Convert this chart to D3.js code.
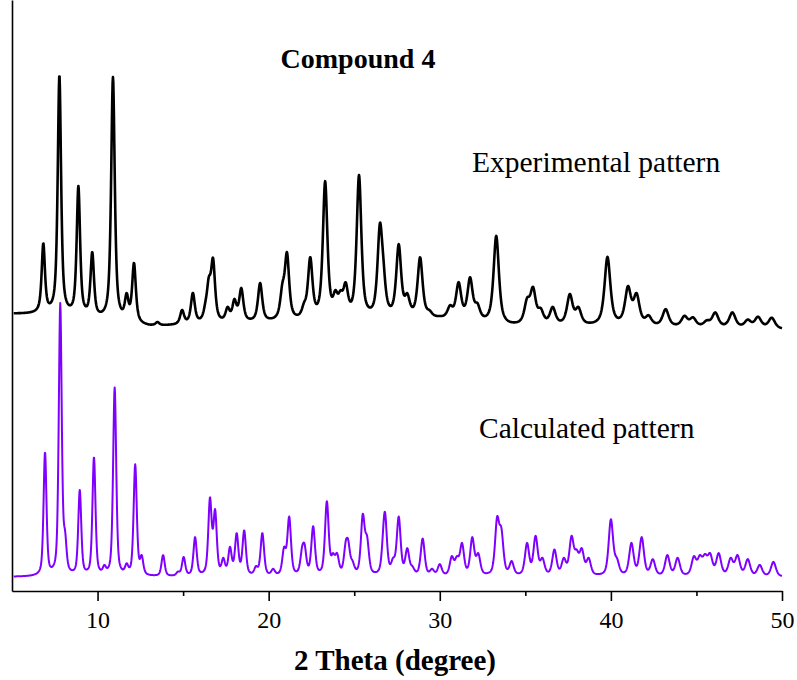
<!DOCTYPE html>
<html>
<head>
<meta charset="utf-8">
<script src="https://cdn.jsdelivr.net/npm/d3@7"></script>
<style>
  body { margin: 0; background: #fff; }
  svg { display: block; }
  text { font-family: "Liberation Serif", "Times New Roman", serif; fill: #000; }
</style>
</head>
<body>
<svg id="chart" width="797" height="680"></svg>
<script>
// ---- data -------------------------------------------------------------
const xMajorTicks = [10, 20, 30, 40, 50];
const xMinorTicks = [15, 25, 35, 45];

// Calculated pattern: reflection positions (2θ, deg) and peak heights (a.u.)
const calcAngle = [6.93, 7.82, 8.10, 8.96, 9.79, 10.40, 11.00, 11.70, 12.20, 12.58,
  13.83, 14.70, 15.03, 15.70, 16.57, 16.87, 17.35, 17.74, 18.13, 18.57,
  19.26, 19.63, 20.26, 20.90, 21.20, 21.95, 22.10, 22.60, 23.40, 23.76,
  24.00, 24.50, 24.65, 24.90, 25.50, 25.75, 26.70, 26.80, 27.27, 27.60,
  28.10, 28.40, 29.00, 29.55, 30.00, 30.70, 31.00, 31.30, 31.90, 32.25,
  33.35, 33.60, 34.20, 35.10, 35.60, 36.00, 36.70, 37.25, 37.70, 38.00,
  38.30, 38.70, 40.00, 40.35, 41.20, 41.80, 42.45, 43.30, 43.90, 44.85,
  45.20, 45.50, 45.80, 46.30, 47.00, 47.40, 48.00, 48.70, 49.50];
const calcHeight = [45.5, 99.7, 17.0, 31.7, 43.7, 4.4, 69.0, 5.0, 41.0, 8.0,
  8.0, 2.0, 7.3, 14.5, 29.0, 24.7, 7.0, 11.0, 16.0, 17.0,
  4.0, 16.0, 3.0, 11.0, 22.0, 11.0, 12.0, 18.5, 27.6, 8.7,
  8.7, 13.0, 13.5, 6.0, 23.0, 15.0, 18.5, 23.6, 7.0, 22.0,
  10.5, 4.0, 14.0, 3.0, 4.7, 7.6, 7.6, 12.4, 14.5, 8.7,
  22.0, 18.0, 5.8, 12.4, 15.0, 7.0, 10.0, 7.0, 15.0, 10.0,
  10.5, 7.0, 21.0, 7.0, 12.4, 14.5, 6.5, 8.0, 7.0, 7.6,
  8.0, 8.4, 8.7, 8.7, 7.0, 8.0, 6.5, 4.4, 5.5];

// Experimental pattern: peak positions (2θ, deg) and heights above background (a.u.)
const expAngle = [6.83, 7.77, 8.88, 9.69, 10.90, 11.70, 12.13, 12.40, 13.50, 14.94,
  15.57, 16.30, 16.50, 16.75, 17.60, 18.00, 18.40, 19.10, 19.50, 20.80,
  21.07, 22.07, 22.43, 23.30, 23.90, 24.20, 24.50, 25.28, 26.50, 26.70,
  27.60, 28.10, 28.85, 29.40, 30.60, 31.10, 31.77, 32.20, 33.30, 35.10,
  35.45, 35.90, 36.60, 37.60, 38.10, 39.80, 41.00, 41.50, 42.20, 43.20,
  44.30, 44.80, 45.60, 46.10, 47.10, 48.00, 48.60, 49.40];
const expHeight = [26.1, 87.9, 48.3, 24.9, 89.4, 11.4, 22.7, 2.0, 1.7, 5.8,
  11.9, 8.5, 17.5, 24.4, 6.4, 9.2, 13.1, 1.7, 14.7, 14.5,
  25.7, 7.4, 23.8, 51.3, 11.6, 11.5, 14.4, 53.3, 35.7, 23.3,
  27.9, 10.0, 23.0, 3.7, 5.8, 14.5, 16.7, 7.6, 32.7, 10.6,
  14.6, 6.9, 7.3, 12.0, 7.3, 25.5, 15.0, 12.5, 4.5, 6.8,
  4.5, 4.0, 3.0, 5.9, 6.0, 3.5, 4.6, 4.3];

// Experimental background level (stacked above the calculated pattern)
const expBgAngle = [5, 7, 13, 20, 30, 34, 40, 50];
const expBgLevel = [95.7, 95.4, 91.0, 92.4, 93.5, 91.0, 91.0, 90.0];

// ---- layout -----------------------------------------------------------
const svg = d3.select("#chart");
const x = d3.scaleLinear().domain([5, 50]).range([12, 782]);
const y = d3.scaleLinear().domain([-5.1, 210]).range([591, 0]);

// pseudo-Voigt line shape, normalised to 1 at the centre
function pseudoVoigt(dx, fwhm, eta) {
  const t = 2 * dx / fwhm;
  const lor = 1 / (1 + t * t);
  const gau = Math.exp(-Math.LN2 * t * t);
  return eta * lor + (1 - eta) * gau;
}

// Build a profile whose maxima sit at the listed heights
function buildProfile(angles, heights, widthAt, eta) {
  const amp = heights.slice();
  const sumAt = (pos) => angles.reduce((s, c, j) =>
    s + amp[j] * pseudoVoigt(pos - c, widthAt(c), eta), 0);
  for (let it = 0; it < 60; it++) {
    for (let i = 0; i < angles.length; i++) {
      const diff = heights[i] - sumAt(angles[i]);
      amp[i] = Math.max(0, amp[i] + 0.6 * diff);
    }
  }
  return (pos) => angles.reduce((s, c, j) =>
    s + amp[j] * pseudoVoigt(pos - c, widthAt(c), eta), 0);
}

const calcProfile = buildProfile(calcAngle, calcHeight, (c) => 0.18 + 0.0032 * c, 0.5);
const expProfile = buildProfile(expAngle, expHeight, (c) => 0.19 + 0.0055 * c, 0.72);
const expBackground = d3.scaleLinear().domain(expBgAngle).range(expBgLevel);

const grid = d3.range(5.1, 50.0001, 0.02);
const calcSeries = grid.map(a => [a, calcProfile(a)]);
const expSeries = grid.map(a => [a, expBackground(a) + expProfile(a)]);

const line = d3.line().x(d => x(d[0])).y(d => y(d[1]));

svg.append("path")
  .datum(calcSeries)
  .attr("d", line)
  .attr("fill", "none")
  .attr("stroke", "#7f00ff")
  .attr("stroke-width", 2)
  .attr("stroke-linejoin", "round");

svg.append("path")
  .datum(expSeries)
  .attr("d", line)
  .attr("fill", "none")
  .attr("stroke", "#000")
  .attr("stroke-width", 2.6)
  .attr("stroke-linejoin", "round");

// ---- axes -------------------------------------------------------------
const xAxis = svg.append("g")
  .attr("transform", `translate(0,${y(-5.1)})`)
  .call(d3.axisBottom(x).tickValues(xMajorTicks).tickSize(10).tickSizeOuter(0).tickFormat(d3.format("d")));
xAxis.select(".domain").attr("stroke-width", 1.6);
xAxis.selectAll(".tick line").attr("stroke-width", 1.6);
xAxis.selectAll(".tick text")
  .attr("y", 37).attr("dy", 0)
  .style("font-family", '"Liberation Serif", "Times New Roman", serif')
  .style("font-size", "24px");

const xMinor = svg.append("g")
  .attr("transform", `translate(0,${y(-5.1)})`)
  .call(d3.axisBottom(x).tickValues(xMinorTicks).tickSize(5).tickSizeOuter(0).tickFormat(""));
xMinor.select(".domain").remove();
xMinor.selectAll(".tick line").attr("stroke-width", 1.6);

const yAxis = svg.append("g")
  .attr("transform", `translate(${x(5)},0)`)
  .call(d3.axisLeft(y).tickValues([]).tickSizeOuter(0));
yAxis.select(".domain").attr("stroke-width", 1.6);

// ---- text -------------------------------------------------------------
svg.append("text")
  .attr("x", 358).attr("y", 68)
  .attr("text-anchor", "middle")
  .style("font-weight", "bold").style("font-size", "28px")
  .text("Compound 4");

svg.append("text")
  .attr("x", 472).attr("y", 172)
  .style("font-size", "29.5px")
  .text("Experimental pattern");

svg.append("text")
  .attr("x", 479).attr("y", 438)
  .style("font-size", "29.5px")
  .text("Calculated pattern");

svg.append("text")
  .attr("x", 395).attr("y", 670)
  .attr("text-anchor", "middle")
  .style("font-weight", "bold").style("font-size", "29px")
  .text("2 Theta (degree)");
</script>
</body>
</html>
